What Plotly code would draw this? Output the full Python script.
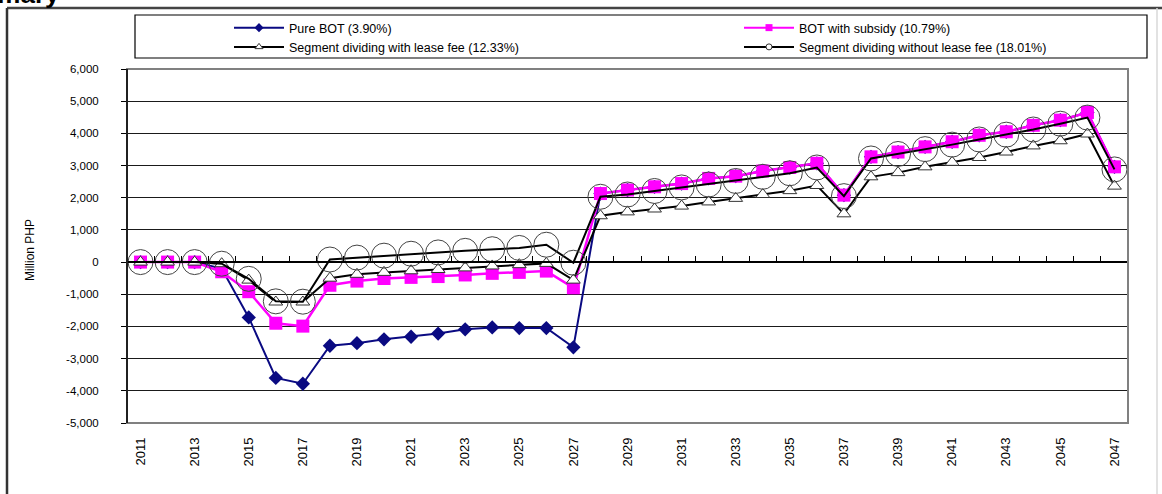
import plotly.graph_objects as go

# ---- data -------------------------------------------------------------
years = list(range(2011, 2048))

pure_bot = [0, 0, 0, -200, -1720, -3600, -3780, -2600, -2520, -2400,
            -2320, -2220, -2090, -2030, -2050, -2050, -2650,
            2130, 2240, 2340, 2440, 2600, 2670, 2830, 2940, 3070, 2080,
            3270, 3420, 3580, 3740, 3940, 4050, 4250, 4410, 4650, 2960]

bot_subsidy = [0, 0, 0, -300, -920, -1900, -1990, -720, -590, -510,
               -475, -450, -400, -350, -320, -280, -800,
               2130, 2240, 2340, 2440, 2600, 2670, 2830, 2940, 3070, 2080,
               3270, 3420, 3580, 3740, 3940, 4050, 4250, 4410, 4650, 2960]

seg_with_fee = [0, 0, 0, -50, -560, -1240, -1240, -500, -380, -320,
                -270, -230, -180, -120, -80, -40, -560,
                1440, 1560, 1650, 1740, 1870, 1980, 2100, 2220, 2380, 1500,
                2650, 2780, 2960, 3100, 3250, 3420, 3610, 3770, 3980, 2360]

seg_without_fee = [0, 0, 0, -50, -520, -1220, -1230, 80, 140, 200,
                   260, 300, 350, 400, 440, 540, -20,
                   2030, 2100, 2210, 2320, 2410, 2520, 2650, 2760, 2940, 2050,
                   3220, 3360, 3510, 3650, 3810, 3960, 4120, 4300, 4490, 2880]

series_names = [
    "Pure BOT (3.90%)",
    "BOT with subsidy (10.79%)",
    "Segment dividing with lease fee (12.33%)",
    "Segment dividing without lease fee (18.01%)",
]

y_ticks = list(range(-5000, 7000, 1000))
y_tick_text = [f"{v:,}" for v in y_ticks]
x_tick_years = list(range(2011, 2048, 2))
x_tick_text = [str(y) for y in x_tick_years]

# ---- geometry helpers (pixel -> paper) ---------------------------------
W, H = 1162, 494
L, R, T, B = 127, 34, 69, 71
PW, PH = W - L - R, H - T - B


def px_x(p):
    return (p - L) / PW


def px_y(p):
    return 1 - (p - T) / PH


FONT = "Liberation Sans, Arial, sans-serif"
NAVY = "#0a0a82"
MAGENTA = "#ff00ff"

fig = go.Figure()

# ---- series -----------------------------------------------------------
fig.add_trace(go.Scatter(
    x=years, y=pure_bot, mode="lines+markers", showlegend=False,
    line=dict(color=NAVY, width=2),
    marker=dict(symbol="diamond", size=11, color=NAVY),
))
fig.add_trace(go.Scatter(
    x=years, y=bot_subsidy, mode="lines+markers", showlegend=False,
    line=dict(color=MAGENTA, width=2.5),
    marker=dict(symbol="square", size=13, color=MAGENTA),
))
fig.add_trace(go.Scatter(
    x=years, y=seg_with_fee, mode="lines+markers", showlegend=False,
    line=dict(color="black", width=2),
    marker=dict(symbol="triangle-up", size=12, color="white",
                line=dict(color="#333333", width=1)),
))
fig.add_trace(go.Scatter(
    x=years, y=seg_without_fee, mode="lines+markers", showlegend=False,
    line=dict(color="black", width=2),
    marker=dict(symbol="circle-open", size=25, color="#444444",
                line=dict(color="#444444", width=1)),
))

# ---- legend entries (small symbols), two columns ------------------------
legend_styles = [
    dict(line=dict(color=NAVY, width=2),
         marker=dict(symbol="diamond", size=7, color=NAVY)),
    dict(line=dict(color=MAGENTA, width=2),
         marker=dict(symbol="square", size=7, color=MAGENTA)),
    dict(line=dict(color="black", width=2),
         marker=dict(symbol="triangle-up", size=7, color="white",
                     line=dict(color="#333333", width=1))),
    dict(line=dict(color="black", width=2),
         marker=dict(symbol="circle", size=6, color="white",
                     line=dict(color="#333333", width=1))),
]
legend_columns = ["legend", "legend2", "legend", "legend2"]
for name, style, col in zip(series_names, legend_styles, legend_columns):
    fig.add_trace(go.Scatter(x=[None], y=[None], mode="lines+markers",
                             name=name, legend=col, **style))

# carrier for the zero-crossing category axis
fig.add_trace(go.Scatter(x=[years[0]], y=[None], xaxis="x2", yaxis="y",
                         showlegend=False, hoverinfo="skip"))

x_range = [years[0] - 0.5, years[-1] + 0.5]
y_range = [y_ticks[0], y_ticks[-1]]

legend_common = dict(
    orientation="v", xanchor="left", yanchor="top",
    bgcolor="rgba(0,0,0,0)", borderwidth=0, itemwidth=50,
    font=dict(size=12.5, family=FONT, color="black"),
    traceorder="normal", tracegroupgap=0,
)

fig.update_layout(
    width=W, height=H, autosize=False,
    margin=dict(l=L, r=R, t=T, b=B, pad=0),
    paper_bgcolor="white", plot_bgcolor="white",
    font=dict(family=FONT, size=12, color="black"),
    xaxis=dict(
        range=x_range, tickmode="array", tickvals=x_tick_years,
        ticktext=x_tick_text, tickangle=-90, showgrid=False,
        zeroline=False, showline=False, ticks="", ticklabelstandoff=11,
        tickfont=dict(size=13, family=FONT),
    ),
    xaxis2=dict(
        overlaying="x", anchor="free",
        position=(0 - y_range[0]) / (y_range[1] - y_range[0]),
        range=x_range, tickmode="linear", tick0=x_range[0], dtick=1,
        ticks="inside", ticklen=5, tickwidth=1, tickcolor="black",
        showticklabels=False, showline=True, linecolor="black",
        linewidth=1.5, showgrid=False, zeroline=False,
    ),
    yaxis=dict(
        range=y_range, tickmode="array", tickvals=y_ticks,
        ticktext=y_tick_text, showgrid=True, gridcolor="#1a1a1a",
        gridwidth=1, zeroline=False, showline=False, ticks="outside",
        ticklen=5, tickwidth=1, tickcolor="black", ticklabelstandoff=20,
        tickfont=dict(size=11.5, family=FONT),
    ),
    legend=dict(x=px_x(229), y=px_y(13), **legend_common),
    legend2=dict(x=px_x(739), y=px_y(13), **legend_common),
    showlegend=True,
)

shapes = [
    # plot-area frame
    dict(type="rect", xref="paper", yref="paper", x0=0, x1=1, y0=0, y1=1,
         line=dict(color="#808080", width=2), layer="above"),
    # value axis
    dict(type="line", xref="paper", yref="paper", x0=0, x1=0, y0=0, y1=1,
         line=dict(color="black", width=1.5), layer="above"),
    # legend box
    dict(type="rect", xref="paper", yref="paper",
         x0=px_x(135), x1=px_x(1147), y0=px_y(58), y1=px_y(15),
         line=dict(color="black", width=1.2), layer="above"),
    # chart-object border
    dict(type="line", xref="paper", yref="paper",
         x0=px_x(7), x1=px_x(1162), y0=px_y(8), y1=px_y(8),
         line=dict(color="#444444", width=2.5), layer="above"),
    dict(type="line", xref="paper", yref="paper",
         x0=px_x(7), x1=px_x(7), y0=px_y(8), y1=px_y(494),
         line=dict(color="#333333", width=2.5), layer="above"),
    dict(type="line", xref="paper", yref="paper",
         x0=px_x(1157), x1=px_x(1157), y0=px_y(8), y1=px_y(494),
         line=dict(color="#d8d8d8", width=1.5), layer="above"),
]
fig.update_layout(shapes=shapes)

fig.add_annotation(
    text="Million PHP", xref="paper", yref="paper",
    x=px_x(30), y=px_y(250), textangle=-90, showarrow=False,
    xanchor="center", yanchor="middle",
    font=dict(size=12, family=FONT, color="black"),
)
fig.add_annotation(
    text="<b>Summary</b>", xref="paper", yref="paper",
    x=px_x(62), y=px_y(-6), showarrow=False,
    xanchor="right", yanchor="middle",
    font=dict(size=26, family=FONT, color="black"),
)

fig.write_html("out.html")
